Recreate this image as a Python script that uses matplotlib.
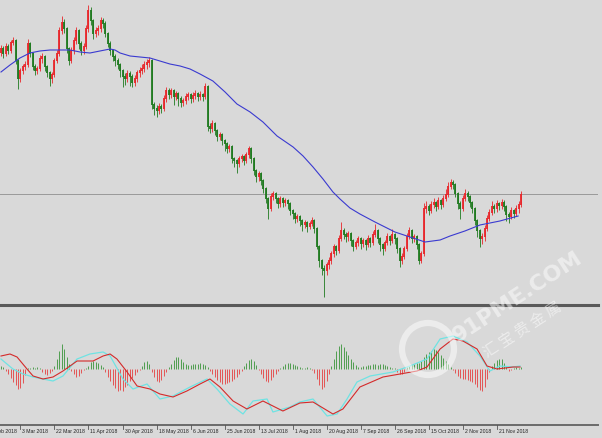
import matplotlib
matplotlib.use("Agg")
import matplotlib.pyplot as plt
import matplotlib.transforms as mtransforms
from matplotlib.patches import Ellipse
import numpy as np

# daily closes / highs / lows (arbitrary price points)
first_open = 246
close = [250, 245, 252, 248, 256, 258, 238, 220, 228, 232,
         234, 255, 245, 232, 228, 230, 240, 242, 232, 226,
         220, 224, 238, 245, 268, 276, 270, 250, 238, 248,
         258, 268, 255, 248, 252, 270, 288, 278, 265, 268,
         270, 278, 275, 265, 255, 248, 242, 238, 234, 228,
         222, 220, 225, 222, 216, 220, 226, 228, 230, 234,
         236, 238, 194, 190, 188, 192, 190, 200, 208, 204,
         208, 202, 205, 200, 196, 198, 202, 204, 200, 203,
         205, 202, 204, 202, 212, 172, 170, 175, 168, 162,
         164, 158, 155, 150, 152, 140, 138, 135, 140, 142,
         138, 144, 150, 140, 128, 122, 125, 118, 110, 100,
         90, 102, 105, 100, 95, 100, 96, 98, 95, 88,
         85, 80, 82, 78, 74, 76, 72, 75, 78, 70,
         52, 38, 30, 28, 34, 38, 45, 52, 48, 60,
         68, 64, 62, 65, 58, 52, 56, 60, 55, 58,
         54, 60, 56, 64, 68, 60, 54, 50, 56, 62,
         58, 64, 60, 50, 38, 42, 50, 62, 68, 60,
         62, 54, 38, 45, 90, 92, 88, 94, 96, 92,
         98, 94, 100, 104, 112, 116, 114, 105, 95, 90,
         100, 105, 102, 96, 90, 78, 68, 60, 62, 70,
         80, 86, 92, 90, 95, 93, 96, 92, 84, 82,
         88, 85, 90, 94, 104]
high = [254, 253, 256, 255, 259, 262, 260, 240, 231, 235,
        238, 260, 257, 247, 235, 233, 244, 246, 244, 234,
        228, 227, 241, 249, 272, 283, 280, 272, 252, 252,
        262, 272, 270, 258, 256, 274, 294, 292, 280, 272,
        274, 282, 281, 278, 267, 258, 250, 245, 241, 236,
        230, 226, 229, 228, 225, 224, 229, 232, 235, 238,
        240, 242, 240, 197, 194, 196, 195, 204, 212, 211,
        211, 210, 208, 207, 203, 201, 206, 207, 206, 207,
        209, 207, 208, 206, 216, 214, 176, 179, 177, 170,
        167, 166, 160, 157, 155, 154, 142, 140, 143, 145,
        144, 147, 153, 152, 142, 130, 128, 127, 120, 112,
        102, 106, 108, 107, 102, 103, 102, 101, 100, 97,
        90, 87, 85, 84, 80, 79, 78, 78, 82, 80,
        72, 54, 40, 34, 37, 42, 48, 55, 54, 64,
        77, 71, 67, 68, 67, 60, 59, 63, 62, 61,
        60, 64, 62, 68, 75, 70, 62, 56, 59, 66,
        64, 70, 66, 62, 52, 46, 53, 66, 72, 70,
        65, 64, 56, 48, 96, 98, 95, 98, 101, 98,
        102, 100, 104, 110, 117, 120, 119, 116, 107, 98,
        104, 110, 108, 104, 98, 92, 80, 70, 66, 74,
        84, 90, 98, 95, 99, 97, 100, 99, 94, 87,
        92, 90, 94, 98, 108]
low = [243, 241, 243, 245, 246, 254, 235, 210, 217, 225,
       229, 232, 242, 229, 224, 225, 228, 236, 228, 222,
       213, 216, 222, 236, 243, 265, 266, 246, 234, 236,
       245, 255, 250, 244, 245, 250, 267, 274, 260, 262,
       264, 267, 271, 262, 252, 244, 238, 233, 230, 222,
       212, 214, 217, 213, 212, 213, 217, 222, 225, 227,
       230, 232, 190, 184, 182, 185, 186, 188, 197, 200,
       201, 194, 199, 193, 192, 193, 195, 199, 196, 197,
       200, 198, 199, 198, 200, 168, 166, 167, 164, 158,
       159, 154, 148, 146, 147, 136, 132, 126, 132, 137,
       134, 136, 141, 136, 124, 117, 118, 114, 106, 96,
       80, 88, 99, 96, 91, 92, 92, 93, 90, 84,
       80, 76, 77, 73, 68, 71, 67, 70, 73, 66,
       50, 32, 24, 2, 24, 30, 35, 42, 44, 46,
       58, 60, 57, 58, 53, 48, 50, 53, 50, 52,
       49, 52, 52, 54, 62, 56, 48, 44, 48, 54,
       54, 56, 55, 46, 32, 35, 40, 48, 60, 56,
       57, 50, 35, 36, 43, 86, 84, 86, 91, 88,
       90, 90, 92, 98, 102, 110, 110, 102, 90, 80,
       88, 98, 98, 92, 86, 74, 62, 52, 55, 58,
       68, 78, 84, 86, 87, 89, 90, 88, 78, 76,
       80, 81, 83, 86, 92]

# moving average (blue), sampled at bar numbers
ma_bar = [0, 3.7, 7.8, 11.9, 16, 20.2, 24.3, 28.4, 32.5, 36.6, 40.7, 44.9,
          46.9, 49, 53.1, 57.2, 61.3, 65.4, 69.5, 73.7, 77.8, 81.9, 87.2,
          92.2, 97.1, 102.5, 107.8, 113.6, 120.2, 124.3, 128.4, 132.5, 136.6,
          139.5, 143.6, 147.7, 153.9, 162.1, 168.3, 174.5, 180.7, 184.8,
          190.9, 197.1, 205.3, 212.8]
ma_val = [227, 234, 241, 246, 248, 249, 249, 249, 247, 246, 248, 250,
          249, 246, 243, 242, 241, 238, 235, 233, 230, 225, 218,
          207, 195, 187, 177, 163, 152, 143, 132, 120, 107,
          100, 91, 85, 77, 67, 62, 57, 59, 63,
          68, 74, 78, 83]
level_line = 105

# MACD histogram, one value per bar
macd_hist = [3, 2, -2, -5, -9, -13, -16, -20, -19, -14,
             -6, 1, 1, 2, 1, 2, 1, -3, -5, -6,
             -4, -2, 3, 10, 18, 25, 20, 12, 5, -2,
             -5, -8, -7, -4, -1, 1, 3, 7, 8, 7,
             6, 4, 2, -3, -8, -12, -16, -19, -22, -21,
             -22, -18, -16, -12, -9, -6, -3, -1, 3, 7,
             8, 5, -3, -8, -12, -13, -11, -7, -3, 2,
             5, 9, 12, 12, 10, 7, 5, 4, 4, 5,
             5, 5, 6, 5, 4, 2, -2, -5, -8, -11,
             -13, -15, -15, -14, -13, -12, -10, -8, -5, -2,
             3, 6, 9, 10, 8, 4, -1, -5, -9, -12,
             -13, -11, -8, -5, -2, 1, 3, 5, 6, 6,
             5, 4, 3, 2, 1, 1, 2, 1, -1, -4,
             -10, -16, -20, -18, -12, -5, 3, 10, 18, 23,
             25, 22, 18, 14, 10, 7, 4, 2, 2, 3,
             3, 4, 4, 5, 5, 4, 5, 5, 4, 3,
             2, 1, 1, -3, -5, -5, -3, 2, 3, 4,
             5, 6, 6, 8, 12, 15, 17, 18, 20, 19,
             17, 14, 11, 8, 5, 2, -1, -4, -7, -9,
             -10, -10, -11, -12, -13, -15, -18, -21, -22, -18,
             -10, -3, 3, 6, 9, 10, 10, 6, 2, -2,
             -1, 1, 2, 1, 2]

sig_bar = [0, 3.7, 6.6, 10.7, 13.2, 17.3, 21.4, 25.5, 31.3, 37.9, 42, 44.9,
           47.7, 51.9, 56, 61.3, 65.4, 70.8, 76.5, 81.9, 86, 90.1, 95.5,
           101.2, 107.8, 116, 123, 128.4, 136.6, 140.7, 147.7, 157.2, 164.2,
           171.2, 175.3, 180.7, 186, 190.1, 195.9, 200, 204.1, 210.7, 213.6]
sig_val = [13, 15, 12, 0, -7, -10, -8, -2, 8, 8, 13, 15, 10, -3, -17, -20,
           -25, -28, -22, -15, -10, -18, -32, -40, -32, -42, -34, -33, -45,
           -40, -18, -8, -5, -2, 2, 20, 30, 28, 20, 3, 0, 2, 2]

main_bar = [0, 4.9, 9.1, 13.2, 21.4, 25.5, 31.3, 36.6, 42, 44.9, 50.2, 54.3,
            60.1, 65.4, 70.8, 77.8, 84.8, 88.9, 94.2, 99.6, 103.7, 109.5,
            111.9, 118.9, 123, 128.4, 134.2, 138.3, 142.4, 146.5, 151.9,
            161.3, 168.3, 175.3, 180.7, 186, 191.8, 197.1, 201.2, 205.3,
            210.7, 213.6]
main_val = [10, 0, -5, -8, -12, -7, 10, 15, 17, 13, -10, -20, -15, -30, -27,
            -18, -10, -20, -35, -45, -32, -30, -43, -38, -33, -30, -47, -45,
            -30, -13, -7, -3, 3, 10, 30, 33, 27, 13, -2, 3, 2, 3]

date_labels = ["12 Feb 2018", "3 Mar 2018", "22 Mar 2018", "11 Apr 2018",
               "30 Apr 2018", "18 May 2018", "6 Jun 2018", "25 Jun 2018",
               "13 Jul 2018", "1 Aug 2018", "20 Aug 2018", "7 Sep 2018",
               "26 Sep 2018", "15 Oct 2018", "2 Nov 2018", "21 Nov 2018"]
label_step = 14
first_label_bar = -6

BG = "#d9d9d9"
UP = "#e8262a"
DOWN = "#1f7a1f"

W, H = 602, 439
fig = plt.figure(figsize=(W / 100, H / 100), dpi=100, facecolor=BG)

n = len(close)
bars = np.arange(n)
opens = np.array([first_open] + close[:-1])
closes = np.array(close)
up = closes >= opens
px = 2.43  # pixels per bar
xlim = (-1 / px, (598 - 1) / px)

# price panel
ax = fig.add_axes([0, 1 - 304 / H, 598 / W, 304 / H])
ax.set_facecolor(BG)
ax.set_xlim(*xlim)
ax.set_ylim(-4, 300)
ax.axhline(level_line, color="#9a9a9a", lw=0.7, zorder=1)
ax.plot(ma_bar, ma_val, color="#3a3ad0", lw=0.8, zorder=3)
cols = np.where(up, UP, DOWN)
ax.vlines(bars, low, high, colors=cols, lw=0.6, zorder=2)
ax.vlines(bars, np.minimum(opens, closes), np.maximum(opens, closes) + 0.6,
          colors=cols, lw=1.3, zorder=2)
ax.axis("off")

# MACD panel
ax2 = fig.add_axes([0, 1 - 425 / H, 598 / W, (425 - 308) / H])
ax2.set_facecolor(BG)
ax2.set_xlim(*xlim)
ax2.set_ylim(-55, 62)
hist = np.array(macd_hist)
hcols = np.where(hist >= 0, "#4f9e4f", "#e45454")
ax2.vlines(bars, 0, hist, colors=hcols, lw=0.7, zorder=2)
ax2.plot(main_bar, main_val, color="#6fe3e3", lw=0.9, zorder=3)
ax2.plot(sig_bar, sig_val, color="#d42a2a", lw=0.8, zorder=4)
ax2.axis("off")

# separators
fig.add_artist(plt.Line2D([0, 598 / W], [1 - 305.5 / H] * 2, color="#5a5a5a",
                          lw=2.2, transform=fig.transFigure))
fig.add_artist(plt.Line2D([0, 598 / W], [1 - 425.5 / H] * 2, color="#6a6a6a",
                          lw=1.4, transform=fig.transFigure))

# date labels
tr = mtransforms.blended_transform_factory(ax2.transData, fig.transFigure)
for k, lab in enumerate(date_labels):
    b = first_label_bar + k * label_step
    fig.add_artist(plt.Line2D([b, b], [1 - 426 / H, 1 - 430 / H], color="#555555",
                              lw=0.6, transform=tr))
    t = mtransforms.offset_copy(tr, fig=fig, x=2, y=0, units="dots")
    fig.text(b, 1 - 432 / H, lab, transform=t, fontsize=3.7, color="#222222",
             ha="left", va="center", family="Liberation Sans")

# watermark
wm = dict(color="white", alpha=0.5, transform=fig.transFigure, zorder=10)
fig.add_artist(Ellipse((428 / W, 1 - 350 / H), 52 / W, 52 / H, fill=False,
                       lw=4.5, ec="white", alpha=0.5, transform=fig.transFigure))
fig.text(518 / W, 1 - 297 / H, "91PME.COM", fontsize=16, rotation=33,
         ha="center", va="center", fontweight="bold", **wm)
fig.text(522 / W, 1 - 330 / H, "汇 宝 贵 金 属", fontsize=11, rotation=33,
         ha="center", va="center", family=["Noto Sans CJK SC", "DejaVu Sans"], **wm)

fig.savefig("out.png", dpi=100, facecolor=BG)
